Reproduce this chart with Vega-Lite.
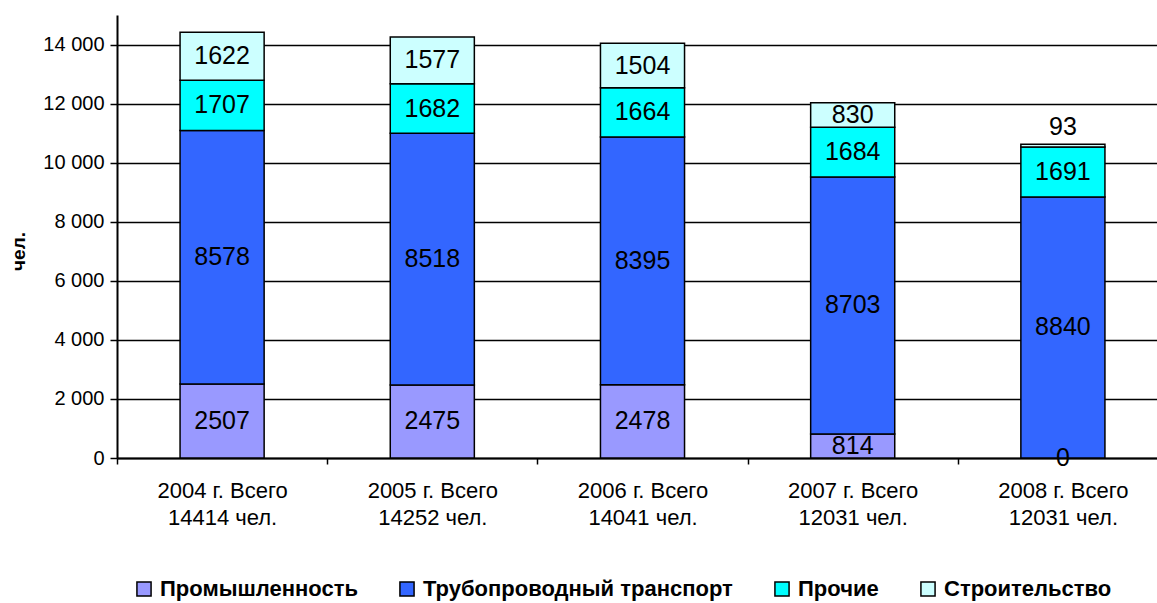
{
  "$schema": "https://vega.github.io/schema/vega-lite/v6.json",
  "width": 1040,
  "height": 443,
  "autosize": {"type": "none"},
  "padding": {"left": 117, "top": 15, "right": 0, "bottom": 145},
  "background": "white",
  "config": {
    "font": "Liberation Sans",
    "view": {"stroke": null},
    "axis": {"labelColor": "black", "titleColor": "black", "labelFont": "Liberation Sans", "titleFont": "Liberation Sans"}
  },
  "data": {
    "values": [
      {"cat": "2004 г. Всего 14414 чел.", "series": "Промышленность", "v": 2507},
      {"cat": "2004 г. Всего 14414 чел.", "series": "Трубопроводный транспорт", "v": 8578},
      {"cat": "2004 г. Всего 14414 чел.", "series": "Прочие", "v": 1707},
      {"cat": "2004 г. Всего 14414 чел.", "series": "Строительство", "v": 1622},
      {"cat": "2005 г. Всего 14252 чел.", "series": "Промышленность", "v": 2475},
      {"cat": "2005 г. Всего 14252 чел.", "series": "Трубопроводный транспорт", "v": 8518},
      {"cat": "2005 г. Всего 14252 чел.", "series": "Прочие", "v": 1682},
      {"cat": "2005 г. Всего 14252 чел.", "series": "Строительство", "v": 1577},
      {"cat": "2006 г. Всего 14041 чел.", "series": "Промышленность", "v": 2478},
      {"cat": "2006 г. Всего 14041 чел.", "series": "Трубопроводный транспорт", "v": 8395},
      {"cat": "2006 г. Всего 14041 чел.", "series": "Прочие", "v": 1664},
      {"cat": "2006 г. Всего 14041 чел.", "series": "Строительство", "v": 1504},
      {"cat": "2007 г. Всего 12031 чел.", "series": "Промышленность", "v": 814},
      {"cat": "2007 г. Всего 12031 чел.", "series": "Трубопроводный транспорт", "v": 8703},
      {"cat": "2007 г. Всего 12031 чел.", "series": "Прочие", "v": 1684},
      {"cat": "2007 г. Всего 12031 чел.", "series": "Строительство", "v": 830},
      {"cat": "2008 г. Всего 12031 чел.", "series": "Промышленность", "v": 0},
      {"cat": "2008 г. Всего 12031 чел.", "series": "Трубопроводный транспорт", "v": 8840},
      {"cat": "2008 г. Всего 12031 чел.", "series": "Прочие", "v": 1691},
      {"cat": "2008 г. Всего 12031 чел.", "series": "Строительство", "v": 93}
    ]
  },
  "transform": [
    {"calculate": "indexof(['Промышленность', 'Трубопроводный транспорт', 'Прочие', 'Строительство'], datum.series)", "as": "stackOrder"}
  ],
  "encoding": {
    "x": {
      "field": "cat", "type": "nominal", "title": null, "sort": null,
      "scale": {"paddingInner": 0, "paddingOuter": 0, "range": [0, 1051]},
      "axis": {
        "labelAngle": 0, "labelFontSize": 22, "labelLineHeight": 27,
        "labelExpr": "[substring(datum.label, 0, 13), substring(datum.label, 14)]",
        "tickBand": "extent", "tickColor": "black", "tickSize": 6, "tickWidth": 1.5,
        "domainColor": "black", "domainWidth": 2, "labelPadding": 16, "labelBaseline": "top"
      }
    },
    "y": {
      "field": "v", "type": "quantitative", "stack": "zero", "title": "чел.",
      "scale": {"domain": [0, 15000], "nice": false},
      "axis": {
        "values": [0, 2000, 4000, 6000, 8000, 10000, 12000, 14000],
        "labelExpr": "replace(format(datum.value, ','), ',', ' ')",
        "labelFontSize": 20, "labelPadding": 6,
        "grid": true, "gridColor": "black", "gridWidth": 1.5, "gridOpacity": 1,
        "tickColor": "black", "tickSize": 7, "tickWidth": 1.5,
        "domainColor": "black", "domainWidth": 2,
        "titleFontSize": 19, "titleFontWeight": "bold",
        "titleX": -99, "titleY": 236, "titleAngle": -90, "titleAlign": "center", "titleBaseline": "middle"
      }
    },
    "order": {"field": "stackOrder", "type": "quantitative", "sort": "ascending"},
    "color": {
      "field": "series", "type": "nominal", "title": null,
      "sort": ["Промышленность", "Трубопроводный транспорт", "Прочие", "Строительство"],
      "scale": {
        "domain": ["Промышленность", "Трубопроводный транспорт", "Прочие", "Строительство"],
        "range": ["#9999FF", "#3366FF", "#00FFFF", "#CCFFFF"]
      },
      "legend": {
        "orient": "none", "direction": "horizontal", "legendX": 16, "legendY": 563,
        "symbolType": "square", "symbolSize": 200, "symbolStrokeColor": "black", "symbolStrokeWidth": 1.5,
        "symbolOpacity": 1, "labelFontSize": 22, "labelFontWeight": "bold", "labelColor": "black",
        "labelFont": "Liberation Sans", "columnPadding": 38, "labelOffset": 5, "labelLimit": 500
      }
    }
  },
  "layer": [
    {
      "mark": {"type": "bar", "width": {"band": 0.4}, "stroke": "black", "strokeWidth": 1.5}
    },
    {
      "mark": {"type": "text", "fontSize": 25, "baseline": "middle", "align": "center"},
      "encoding": {
        "y": {"field": "v", "type": "quantitative", "stack": "zero", "bandPosition": 0.5},
        "fill": {"value": "black"},
        "text": {"condition": {"test": "datum.v != 93", "field": "v", "type": "quantitative", "format": "d"}, "value": ""}
      }
    },
    {
      "mark": {"type": "text", "fontSize": 25, "baseline": "middle", "align": "center", "dy": -17},
      "encoding": {
        "fill": {"value": "black"},
        "text": {"condition": {"test": "datum.v == 93", "field": "v", "type": "quantitative", "format": "d"}, "value": ""}
      }
    }
  ]
}
